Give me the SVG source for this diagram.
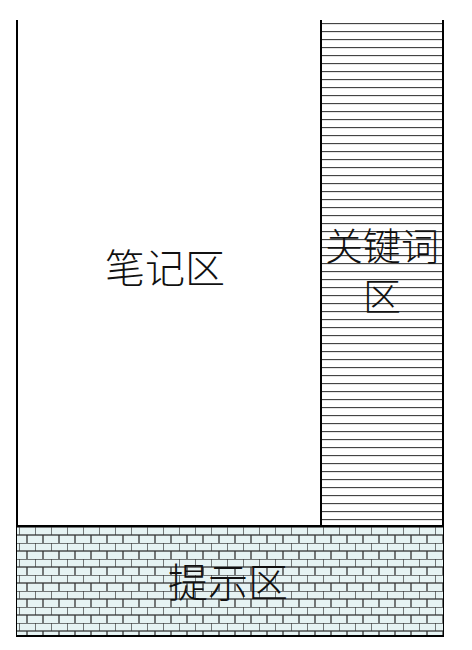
<svg xmlns="http://www.w3.org/2000/svg" width="472" height="650" viewBox="0 0 472 650">
<style>
.lbl{font-family:"Noto Sans CJK SC","Noto Sans",sans-serif;font-size:40px;fill:#111;text-anchor:middle;font-weight:300}
.kw{font-size:38px}
.edge{stroke:#000;stroke-width:2;fill:none}
</style>
<defs>
<pattern id="hl" patternUnits="userSpaceOnUse" x="0" y="23" width="10" height="8">
<line x1="0" y1="0.5" x2="10" y2="0.5" stroke="#444" stroke-width="1.3"/>
</pattern>
<pattern id="brick" patternUnits="userSpaceOnUse" x="19" y="527" width="16" height="16">
<rect width="16" height="16" fill="#e6f3f3"/>
<line x1="0" y1="0" x2="16" y2="0" stroke="#333" stroke-width="1.3"/>
<line x1="0" y1="8" x2="16" y2="8" stroke="#333" stroke-width="1.3"/>
<line x1="0" y1="0" x2="0" y2="8" stroke="#333" stroke-width="1.3"/>
<line x1="8" y1="8" x2="8" y2="16" stroke="#333" stroke-width="1.3"/>
</pattern>
</defs>
<rect width="472" height="650" fill="#fff"/>
<g id="notes">
<line class="edge" x1="17" y1="20" x2="17" y2="637"/>
<text class="lbl" x="165" y="283">笔记区</text>
</g>
<g id="keywords">
<rect x="321" y="21" width="122" height="504" fill="url(#hl)"/>
<line class="edge" x1="321" y1="20" x2="321" y2="526"/>
<line class="edge" x1="443" y1="20" x2="443" y2="637"/>
<text class="lbl kw" x="382" y="260">关键词</text>
<text class="lbl kw" x="382" y="310">区</text>
</g>
<g id="cues">
<rect x="17" y="526" width="426" height="110" fill="url(#brick)"/>
<line class="edge" x1="16" y1="526" x2="444" y2="526"/>
<line class="edge" x1="16" y1="636" x2="444" y2="636"/>
<text class="lbl" x="228" y="597">提示区</text>
</g>
<g id="connectors"></g>
</svg>
